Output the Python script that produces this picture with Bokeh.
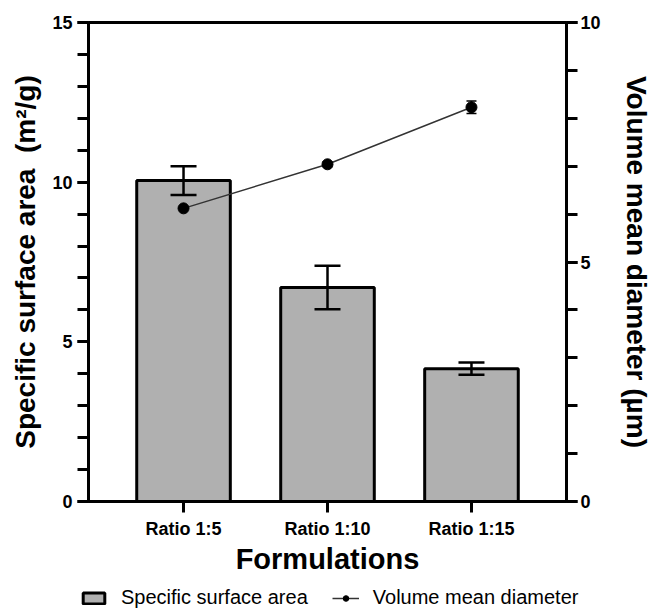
from bokeh.plotting import figure
from bokeh.models import (ColumnDataSource, FactorRange, Range1d, LinearAxis, SingleIntervalTicker,
                          Whisker, TeeHead, Legend, LegendItem)
from bokeh.embed import file_html
from bokeh.resources import INLINE

categories = ["Ratio 1:5", "Ratio 1:10", "Ratio 1:15"]
ssa_mean = [10.05, 6.70, 4.16]
ssa_err = [0.45, 0.68, 0.19]
vmd_mean = [6.12, 7.04, 8.23]
vmd_err = [0.0, 0.05, 0.13]
series_names = ["Specific surface area", "Volume mean diameter"]

FONT = "Liberation Sans"
BAR_FILL = "#b0b0b0"
LINE_COL = "#333333"

src = ColumnDataSource(dict(
    x=categories, ssa=ssa_mean,
    ssa_lo=[m - e for m, e in zip(ssa_mean, ssa_err)],
    ssa_hi=[m + e for m, e in zip(ssa_mean, ssa_err)],
    vmd=vmd_mean,
    vmd_lo=[m - e for m, e in zip(vmd_mean, vmd_err)],
    vmd_hi=[m + e for m, e in zip(vmd_mean, vmd_err)],
))

p = figure(x_range=FactorRange(factors=categories, range_padding=0.16, range_padding_units="absolute"),
           y_range=Range1d(0, 15), frame_width=478, frame_height=479,
           output_backend="svg", toolbar_location=None,
           min_border_left=88, min_border_right=85, min_border_top=22, min_border_bottom=81)
p.extra_y_ranges = {"d": Range1d(0, 10)}
p.grid.visible = False
p.outline_line_color = "black"
p.outline_line_width = 3
p.background_fill_color = "white"

bars = p.vbar(x="x", top="ssa", width=0.65, source=src, fill_color=BAR_FILL,
              line_color="black", line_width=3)
p.add_layout(Whisker(source=src, base="x", lower="ssa_lo", upper="ssa_hi",
                     line_color="black", line_width=2.5, level="glyph",
                     upper_head=TeeHead(size=26, line_width=2.5, line_color="black"),
                     lower_head=TeeHead(size=26, line_width=2.5, line_color="black")))

line = p.line(x="x", y="vmd", source=src, y_range_name="d", line_color=LINE_COL, line_width=1.5)
pts = p.scatter(x="x", y="vmd", source=src, y_range_name="d", size=11, fill_color="black", line_color="black")
p.add_layout(Whisker(source=src, base="x", lower="vmd_lo", upper="vmd_hi", y_range_name="d",
                     line_color="black", line_width=1.5, level="annotation",
                     upper_head=TeeHead(size=10, line_width=1.5, line_color="black"),
                     lower_head=TeeHead(size=10, line_width=1.5, line_color="black")))

def style_axis(ax):
    ax.axis_line_width = 3
    ax.axis_line_color = "black"
    ax.major_tick_line_width = 3
    ax.minor_tick_line_width = 3
    ax.major_tick_in = 0
    ax.major_tick_out = 11
    ax.minor_tick_in = 0
    ax.minor_tick_out = 11
    ax.major_label_text_font = FONT
    ax.major_label_text_font_style = "bold"
    ax.major_label_text_font_size = "18px"
    ax.major_label_text_color = "black"
    ax.axis_label_text_font = FONT
    ax.axis_label_text_font_style = "bold"
    ax.axis_label_text_font_size = "28px"
    ax.axis_label_text_color = "black"

yl = p.yaxis[0]
yl.ticker = SingleIntervalTicker(interval=5, num_minor_ticks=5)
yl.axis_label = "Specific surface area\u00a0 (m²/g)"
style_axis(yl)
yl.major_label_standoff = 5
yl.axis_label_standoff = 8

yr = LinearAxis(y_range_name="d", ticker=SingleIntervalTicker(interval=5, num_minor_ticks=5),
                axis_label="Volume mean diameter (µm)")
style_axis(yr)
yr.major_label_standoff = 3
yr.axis_label_standoff = 17
p.add_layout(yr, "right")

xa = p.xaxis[0]
xa.axis_label = "Formulations"
style_axis(xa)
xa.major_label_text_font_size = "18px"
xa.axis_label_text_font_size = "29px"
xa.major_label_standoff = 6
xa.axis_label_standoff = 1

# legend strip below the chart (separate root so it is not frame-aligned)
lf = figure(width=651, height=27, x_range=Range1d(0, 1), y_range=Range1d(0, 1),
            output_backend="svg", toolbar_location=None, x_axis_type=None, y_axis_type=None,
            min_border=0)
lf.grid.visible = False
lf.outline_line_color = None
offscreen = ColumnDataSource(dict(x=[-5.0], y=[-5.0]))
lb = lf.vbar(x="x", top="y", width=0.1, source=offscreen, fill_color=BAR_FILL, line_color="black", line_width=3)
ll = lf.line(x="x", y="y", source=offscreen, line_color=LINE_COL, line_width=1.5)
lp = lf.scatter(x="x", y="y", source=offscreen, size=9, fill_color="black", line_color="black")
legend = Legend(items=[LegendItem(label=series_names[0], renderers=[lb]),
                       LegendItem(label=series_names[1], renderers=[ll, lp])],
                orientation="horizontal", location=(80, 0),
                label_text_font=FONT, label_text_font_size="20px", label_text_color="black",
                glyph_width=27, glyph_height=14, label_standoff=14, spacing=24,
                border_line_color=None, background_fill_alpha=0, padding=0, margin=0)
lf.add_layout(legend, "center")

open("out.html", "w").write(file_html([p, lf], INLINE))
